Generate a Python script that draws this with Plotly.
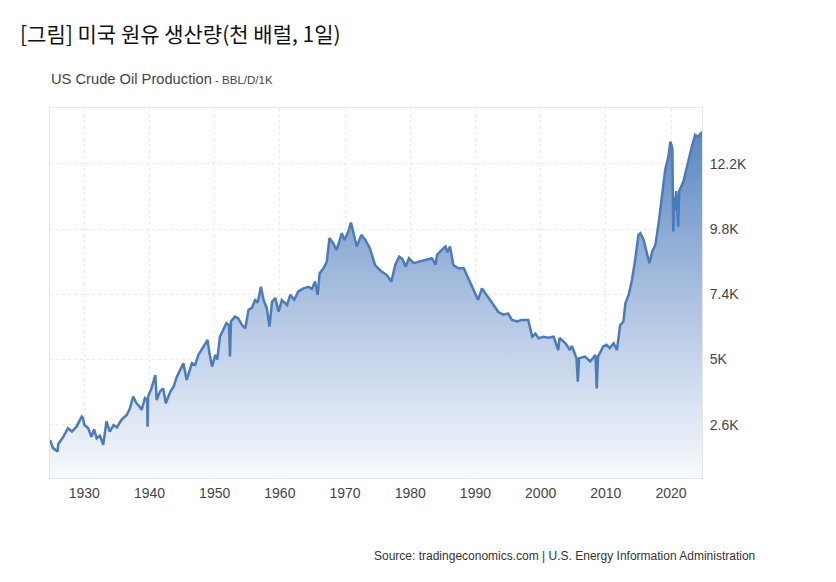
import plotly.graph_objects as go

# Time (decimal year) and US crude oil production (thousand barrels per day)
years = [
    1924.74, 1925.2, 1925.9, 1926.0, 1926.8, 1927.5, 1928.1, 1928.8, 1929.6, 1929.8,
    1930.0, 1930.6, 1931.1, 1931.5, 1931.9, 1932.4, 1932.9, 1933.4, 1933.9, 1934.5,
    1935.0, 1935.7, 1936.5, 1937.0, 1937.5, 1938.0, 1938.4, 1938.8, 1939.3, 1939.65,
    1939.7, 1939.8, 1940.3, 1940.9, 1941.1, 1941.6, 1942.1, 1942.5, 1943.2, 1943.7,
    1944.2, 1944.7, 1945.2, 1945.7, 1946.5, 1947.0, 1947.5, 1948.3, 1948.9, 1949.2,
    1949.6, 1950.1, 1950.4, 1950.8, 1951.3, 1951.8, 1952.2, 1952.35, 1952.5, 1953.1,
    1953.6, 1954.2, 1954.7, 1955.2, 1955.7, 1956.2, 1956.6, 1957.1, 1957.5, 1958.0,
    1958.4, 1958.8, 1959.3, 1959.8, 1960.3, 1961.1, 1961.6, 1962.2, 1962.8, 1963.6,
    1964.4, 1964.9, 1965.4, 1965.8, 1966.1, 1966.7, 1967.2, 1967.6, 1968.2, 1968.7,
    1969.5, 1969.9, 1970.5, 1970.9, 1971.3, 1971.8, 1972.5, 1973.1, 1973.8, 1974.6,
    1975.6, 1976.4, 1977.1, 1977.7, 1978.3, 1978.8, 1979.3, 1979.8, 1980.5, 1981.3,
    1982.3, 1983.3, 1983.9, 1984.1, 1984.8, 1985.4, 1985.7, 1986.1, 1986.6, 1987.4,
    1988.2, 1988.7, 1989.5, 1990.0, 1990.4, 1991.0, 1991.5, 1992.0, 1992.8, 1993.5,
    1994.3, 1995.0, 1995.6, 1996.4, 1997.1, 1998.1, 1998.7, 1999.2, 1999.7, 2000.4,
    2001.2, 2002.0, 2002.7, 2002.9, 2003.8, 2004.5, 2004.8, 2005.5, 2005.7, 2005.9,
    2006.8, 2007.6, 2008.4, 2008.6, 2008.8, 2009.6, 2010.1, 2010.6, 2011.2, 2011.7,
    2012.2, 2012.7, 2013.0, 2013.5, 2014.0, 2014.5, 2015.0, 2015.3, 2015.8, 2016.3,
    2016.7, 2017.1, 2017.6, 2018.1, 2018.6, 2019.1, 2019.6, 2019.9, 2020.2, 2020.35,
    2020.5, 2020.65, 2020.8, 2021.1, 2021.25, 2021.9, 2022.2, 2022.7, 2023.2, 2023.7,
    2024.2, 2024.75,
]
production = [
    2.04, 1.74, 1.62, 1.88, 2.16, 2.47, 2.35, 2.53, 2.90, 2.85,
    2.60, 2.47, 2.16, 2.43, 2.10, 2.20, 1.86, 2.72, 2.35, 2.59,
    2.50, 2.78, 2.96, 3.20, 3.64, 3.39, 3.30, 3.15, 3.58, 3.50,
    2.53, 3.64, 3.94, 4.43, 3.51, 3.82, 3.94, 3.39, 3.82, 4.00,
    4.37, 4.62, 4.86, 4.25, 4.86, 4.80, 5.17, 5.48, 5.72, 5.23,
    4.74, 5.17, 5.00, 5.84, 6.09, 6.34, 6.27, 5.11, 6.40, 6.58,
    6.52, 6.27, 6.15, 6.83, 6.90, 7.19, 7.10, 7.68, 7.19, 6.89,
    6.21, 7.13, 7.26, 6.76, 7.19, 7.01, 7.38, 7.20, 7.50, 7.62,
    7.68, 7.60, 7.87, 7.38, 8.18, 8.36, 8.60, 9.47, 9.28, 9.03,
    9.65, 9.40, 9.71, 10.04, 9.65, 9.16, 9.59, 9.40, 9.10, 8.48,
    8.24, 8.11, 7.87, 8.48, 8.79, 8.70, 8.42, 8.73, 8.55, 8.60,
    8.67, 8.73, 8.50, 8.85, 9.03, 9.16, 8.95, 9.16, 8.48, 8.36,
    8.36, 8.11, 7.68, 7.44, 7.20, 7.62, 7.45, 7.32, 7.00, 6.75,
    6.65, 6.70, 6.46, 6.40, 6.46, 6.46, 5.84, 5.95, 5.78, 5.84,
    5.80, 5.84, 5.35, 5.80, 5.60, 5.35, 5.50, 5.05, 4.19, 5.05,
    5.11, 4.93, 5.17, 3.94, 5.11, 5.48, 5.54, 5.42, 5.60, 5.35,
    6.27, 6.40, 7.07, 7.38, 7.93, 8.67, 9.59, 9.65, 9.40, 8.91,
    8.55, 8.97, 9.22, 10.02, 11.12, 11.98, 12.47, 13.02, 12.78, 9.71,
    11.00, 10.50, 11.20, 9.89, 11.20, 11.55, 11.86, 12.41, 12.84, 13.27,
    13.20, 13.39,
]

x_tick_vals = [1930, 1940, 1950, 1960, 1970, 1980, 1990, 2000, 2010, 2020]
x_tick_text = ["1930", "1940", "1950", "1960", "1970", "1980", "1990", "2000", "2010", "2020"]
y_tick_vals = [2.6, 5.0, 7.4, 9.8, 12.2]
y_tick_text = ["2.6K", "5K", "7.4K", "9.8K", "12.2K"]

title_text = "[그림] 미국 원유 생산량(천 배럴, 1일)"
subtitle_main = "US Crude Oil Production"
subtitle_unit = " - BBL/D/1K"
source_text = "Source: tradingeconomics.com | U.S. Energy Information Administration"

Y_MIN, Y_MAX = 0.64, 14.26
X_MIN, X_MAX = 1924.74, 2024.75

fig = go.Figure()
fig.add_trace(go.Scatter(
    x=years, y=production, mode="lines",
    line=dict(color="#4a7cbc", width=2.5),
    fill="tozeroy",
    fillgradient=dict(type="vertical", start=Y_MIN, stop=13.4,
                      colorscale=[[0, "#f8fafd"], [0.5, "#aec3e1"], [1, "#5b87c2"]]),
    hoverinfo="x+y",
))

axis_font = dict(family="Liberation Sans, Arial, sans-serif", size=14, color="#444444")
fig.update_layout(
    width=828, height=574,
    margin=dict(l=42, r=134, t=100, b=104),
    paper_bgcolor="white", plot_bgcolor="white",
    showlegend=False,
    font=dict(family="Liberation Sans, Arial, sans-serif", color="#333333"),
    xaxis=dict(range=[X_MIN, X_MAX], tickvals=x_tick_vals, ticktext=x_tick_text,
               showgrid=True, gridcolor="#ebebeb", griddash="dot", gridwidth=1,
               showline=True, linecolor="#e6e6e6", mirror=True, zeroline=False,
               ticks="", tickfont=axis_font, ticklabelstandoff=2),
    yaxis=dict(range=[Y_MIN, Y_MAX], tickvals=y_tick_vals, ticktext=y_tick_text,
               side="right", showgrid=True, gridcolor="#ebebeb", griddash="dot", gridwidth=1,
               showline=True, linecolor="#e6e6e6", mirror=True, zeroline=False,
               ticks="", tickfont=axis_font, ticklabelstandoff=4),
    annotations=[
        dict(text=title_text, xref="paper", yref="paper", x=-0.049, y=1.2027,
             xanchor="left", yanchor="middle", showarrow=False,
             font=dict(family="Noto Sans CJK KR", size=21, color="#111111")),
        dict(text=subtitle_main + "<span style='font-size:11.5px'>" + subtitle_unit + "</span>",
             xref="paper", yref="paper", x=-0.0015, y=1.0784,
             xanchor="left", yanchor="middle", showarrow=False,
             font=dict(family="Liberation Sans, Arial, sans-serif", size=14.7, color="#444444")),
        dict(text=source_text, xref="paper", yref="paper", x=1.0844, y=-0.2108,
             xanchor="right", yanchor="middle", showarrow=False,
             font=dict(family="Liberation Sans, Arial, sans-serif", size=12, color="#333333")),
    ],
)

fig.write_html("out.html")
